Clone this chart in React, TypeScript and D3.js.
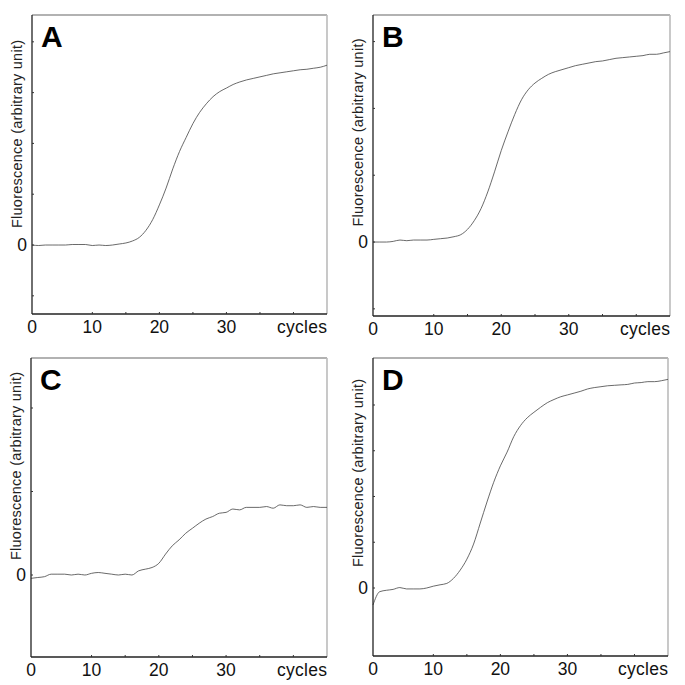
import React from "react";
import * as d3 from "d3";

// cycle numbers (x)
const cycles: number[] = d3.range(1, 46);

// fluorescence (arbitrary unit), one value per cycle 1..45
const seriesA: number[] = [
  0.0, -0.01, 0.0, 0.0, 0.0, 0.0, 0.01, 0.01, 0.01, -0.01,
  0.0, -0.01, 0.0, 0.02, 0.04, 0.08, 0.15, 0.29, 0.5, 0.79,
  1.12, 1.5, 1.84, 2.12, 2.39, 2.61, 2.78, 2.92, 3.02, 3.09,
  3.16, 3.21, 3.25, 3.28, 3.31, 3.34, 3.37, 3.39, 3.41, 3.43,
  3.45, 3.46, 3.48, 3.5, 3.54,
];
const seriesB: number[] = [
  0.0, 0.0, 0.0, 0.01, 0.03, 0.02, 0.03, 0.03, 0.03, 0.04,
  0.05, 0.06, 0.08, 0.11, 0.19, 0.32, 0.5, 0.75, 1.05, 1.37,
  1.65, 1.91, 2.13, 2.28, 2.38, 2.45, 2.51, 2.55, 2.58, 2.61,
  2.64, 2.66, 2.68, 2.7, 2.71, 2.73, 2.75, 2.76, 2.77, 2.78,
  2.79, 2.81, 2.81, 2.83, 2.85,
];
const seriesC: number[] = [
  -0.04, -0.03, -0.02, 0.01, 0.01, 0.01, 0.0, 0.01, 0.0, 0.02,
  0.03, 0.02, 0.01, 0.0, 0.01, 0.0, 0.05, 0.07, 0.09, 0.14,
  0.25, 0.35, 0.42, 0.5, 0.56, 0.62, 0.67, 0.7, 0.74, 0.75,
  0.79, 0.78, 0.81, 0.81, 0.81, 0.82, 0.8, 0.84, 0.83, 0.83,
  0.84, 0.81, 0.82, 0.81, 0.81,
];
const seriesD: number[] = [
  -0.37, -0.08, -0.05, -0.03, 0.01, -0.02, -0.02, -0.02, 0.0, 0.04,
  0.07, 0.1, 0.21, 0.39, 0.63, 0.96, 1.42, 1.88, 2.31, 2.67,
  2.97, 3.31, 3.55, 3.72, 3.84, 3.95, 4.05, 4.12, 4.18, 4.22,
  4.26, 4.3, 4.35, 4.38, 4.4, 4.42, 4.43, 4.44, 4.45, 4.48,
  4.49, 4.51, 4.51, 4.53, 4.56,
];

const panelLetters: string[] = ["A", "B", "C", "D"];
const xTickValues: number[] = [10, 15, 20, 25, 30, 35, 40];
const xTickLabels: { v: number; t: string }[] = [
  { v: 1, t: "0" },
  { v: 10, t: "10" },
  { v: 20, t: "20" },
  { v: 30, t: "30" },
];
const yTicksA: number[] = [-1, 0, 1, 2, 3, 4];
const yTicksB: number[] = [-1, 0, 1, 2, 3];
const yTicksC: number[] = [0, 1, 2];
const yTicksD: number[] = [0, 1, 2, 3, 4];
const yLabelText = "Fluorescence (arbitrary unit)";
const xLabelText = "cycles";

const FONT = "'Liberation Sans', Arial, Helvetica, sans-serif";

interface PanelCfg {
  letter: string;
  data: number[];
  yTicks: number[];
  yDomain: [number, number];
  left: number;
  top: number;
  right: number;
  bottom: number;
  yLabelOffset: number;
}

const panels: PanelCfg[] = [
  { letter: panelLetters[0], data: seriesA, yTicks: yTicksA, yDomain: [-1.358, 4.528], left: 32, top: 15, right: 327, bottom: 314, yLabelOffset: 119 },
  { letter: panelLetters[1], data: seriesB, yTicks: yTicksB, yDomain: [-1.107, 3.398], left: 373, top: 15, right: 670, bottom: 316, yLabelOffset: 117.5 },
  { letter: panelLetters[2], data: seriesC, yTicks: yTicksC, yDomain: [-0.982, 2.599], left: 31, top: 358, right: 327, bottom: 657, yLabelOffset: 108 },
  { letter: panelLetters[3], data: seriesD, yTicks: yTicksD, yDomain: [-1.486, 5.027], left: 373, top: 358, right: 668, bottom: 656, yLabelOffset: 115 },
];

function Panel({ p }: { p: PanelCfg }) {
  const x = d3.scaleLinear().domain([1, 45]).range([p.left, p.right]);
  const y = d3.scaleLinear().domain(p.yDomain).range([p.bottom, p.top]);
  const line = d3
    .line<number>()
    .x((_, i) => x(cycles[i]))
    .y((d) => y(d))
    .curve(d3.curveMonotoneX);
  return (
    <g>
      {/* frame */}
      <line x1={p.left} x2={p.right} y1={p.top} y2={p.top} stroke="#666" strokeWidth={1.2} />
      <line x1={p.right} x2={p.right} y1={p.top} y2={p.bottom} stroke="#bbb" strokeWidth={1.6} />
      <path d={line(p.data) || ""} fill="none" stroke="#444" strokeWidth={0.8} />
      <line x1={p.left} x2={p.left} y1={p.top} y2={p.bottom} stroke="#222" strokeWidth={1.3} />
      <line x1={p.left} x2={p.right} y1={p.bottom} y2={p.bottom} stroke="#222" strokeWidth={1.3} />
      {/* x ticks */}
      {xTickValues.map((v) => (
        <line key={"xt" + v} x1={x(v)} x2={x(v)} y1={p.bottom} y2={p.bottom - 2} stroke="#333" strokeWidth={1} />
      ))}
      {xTickLabels.map((d) => (
        <text key={"xl" + d.t} x={x(d.v)} y={p.bottom + 19} textAnchor="middle" fontSize={17.5} fontFamily={FONT} fill="#111">
          {d.t}
        </text>
      ))}
      <text x={p.right} y={p.bottom + 19} textAnchor="end" fontSize={17.5} fontFamily={FONT} fill="#111" textLength={50}>
        {xLabelText}
      </text>
      {/* y ticks */}
      {p.yTicks.map((v) => (
        <line key={"yt" + v} x1={p.left} x2={p.left + 2} y1={y(v)} y2={y(v)} stroke="#333" strokeWidth={1} />
      ))}
      <text x={p.left - 5} y={y(0)} dy="0.36em" textAnchor="end" fontSize={17.5} fontFamily={FONT} fill="#111">
        0
      </text>
      {/* y label */}
      <text
        transform={`translate(${p.left - 15},${p.top + p.yLabelOffset}) rotate(-90)`}
        dy="0.32em"
        textAnchor="middle"
        fontSize={14.5}
        fontFamily={FONT}
        fill="#222"
        textLength={188}
      >
        {yLabelText}
      </text>
      {/* panel letter */}
      <text x={p.left + 9} y={p.top + 32} fontSize={30} fontWeight="bold" fontFamily={FONT} fill="#000">
        {p.letter}
      </text>
    </g>
  );
}

export default function App() {
  return (
    <svg
      width={685}
      height={685}
      viewBox="0 0 685 685"
      style={{ position: "absolute", left: 0, top: 0, background: "#fff" }}
    >
      <rect x={0} y={0} width={685} height={685} fill="#fff" />
      {panels.map((p) => (
        <Panel key={p.letter} p={p} />
      ))}
    </svg>
  );
}
